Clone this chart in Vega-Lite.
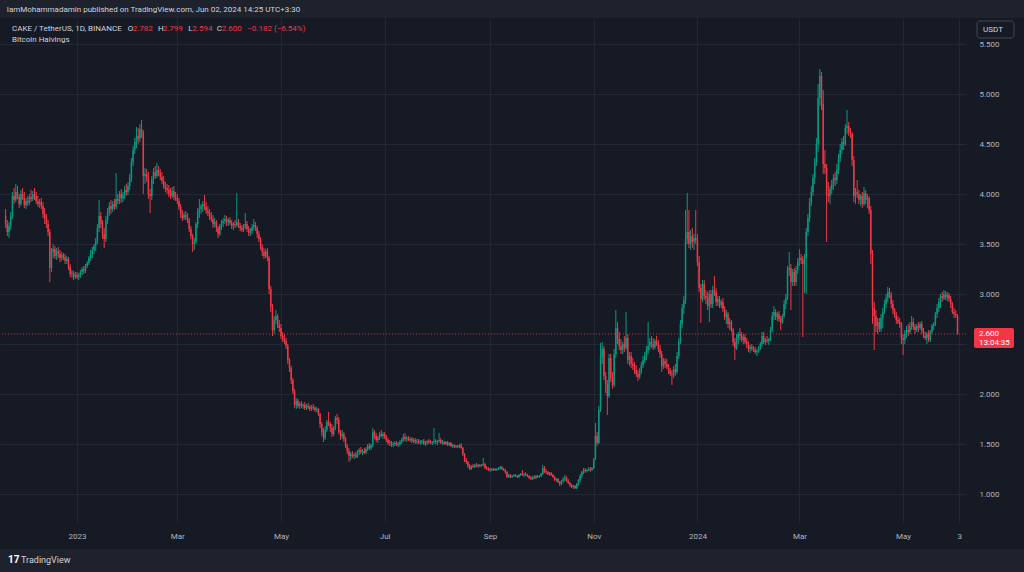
{
"$schema":"https://vega.github.io/schema/vega-lite/v6.json",
"width":966,"height":504,
"autosize":{"type":"none"},
"padding":{"left":0,"top":18,"right":58,"bottom":50},
"background":"#161a25",
"view":{"stroke":null},
"resolve":{"axis":{"x":"independent","y":"independent"}},
"datasets":{"k":[
{"t":"2022-11-20","o":3.78,"h":3.85,"l":3.66,"c":3.70},
{"t":"2022-11-21","o":3.70,"h":3.74,"l":3.58,"c":3.62},
{"t":"2022-11-22","o":3.62,"h":3.72,"l":3.56,"c":3.68},
{"t":"2022-11-23","o":3.68,"h":3.82,"l":3.64,"c":3.78},
{"t":"2022-11-24","o":3.78,"h":4.02,"l":3.75,"c":3.98},
{"t":"2022-11-25","o":3.98,"h":4.06,"l":3.90,"c":3.94},
{"t":"2022-11-26","o":3.94,"h":4.10,"l":3.92,"c":4.02},
{"t":"2022-11-27","o":4.02,"h":4.08,"l":3.95,"c":3.97},
{"t":"2022-11-28","o":3.97,"h":4.00,"l":3.86,"c":3.90},
{"t":"2022-11-29","o":3.90,"h":4.04,"l":3.88,"c":4.00},
{"t":"2022-11-30","o":4.00,"h":4.06,"l":3.94,"c":3.96},
{"t":"2022-12-01","o":3.96,"h":4.02,"l":3.86,"c":3.89},
{"t":"2022-12-02","o":3.89,"h":3.96,"l":3.85,"c":3.93},
{"t":"2022-12-03","o":3.93,"h":3.98,"l":3.88,"c":3.91},
{"t":"2022-12-04","o":3.91,"h":4.00,"l":3.89,"c":3.97},
{"t":"2022-12-05","o":3.97,"h":4.04,"l":3.92,"c":3.95},
{"t":"2022-12-06","o":3.95,"h":4.03,"l":3.93,"c":4.00},
{"t":"2022-12-07","o":4.00,"h":4.06,"l":3.94,"c":3.98},
{"t":"2022-12-08","o":3.98,"h":4.02,"l":3.90,"c":3.93},
{"t":"2022-12-09","o":3.93,"h":3.98,"l":3.87,"c":3.90},
{"t":"2022-12-10","o":3.90,"h":3.95,"l":3.86,"c":3.92},
{"t":"2022-12-11","o":3.92,"h":3.96,"l":3.85,"c":3.88},
{"t":"2022-12-12","o":3.88,"h":3.92,"l":3.76,"c":3.80},
{"t":"2022-12-13","o":3.80,"h":3.86,"l":3.70,"c":3.75},
{"t":"2022-12-14","o":3.75,"h":3.80,"l":3.66,"c":3.70},
{"t":"2022-12-15","o":3.70,"h":3.74,"l":3.58,"c":3.62},
{"t":"2022-12-16","o":3.62,"h":3.65,"l":3.12,"c":3.26},
{"t":"2022-12-17","o":3.26,"h":3.46,"l":3.22,"c":3.42},
{"t":"2022-12-18","o":3.42,"h":3.50,"l":3.36,"c":3.45},
{"t":"2022-12-19","o":3.45,"h":3.48,"l":3.35,"c":3.38},
{"t":"2022-12-20","o":3.38,"h":3.46,"l":3.34,"c":3.43},
{"t":"2022-12-21","o":3.43,"h":3.47,"l":3.36,"c":3.40},
{"t":"2022-12-22","o":3.40,"h":3.44,"l":3.32,"c":3.36},
{"t":"2022-12-23","o":3.36,"h":3.42,"l":3.33,"c":3.39},
{"t":"2022-12-24","o":3.39,"h":3.41,"l":3.34,"c":3.37},
{"t":"2022-12-25","o":3.37,"h":3.40,"l":3.30,"c":3.33},
{"t":"2022-12-26","o":3.33,"h":3.38,"l":3.30,"c":3.35},
{"t":"2022-12-27","o":3.35,"h":3.37,"l":3.24,"c":3.27},
{"t":"2022-12-28","o":3.27,"h":3.30,"l":3.17,"c":3.20},
{"t":"2022-12-29","o":3.20,"h":3.24,"l":3.16,"c":3.21},
{"t":"2022-12-30","o":3.21,"h":3.23,"l":3.14,"c":3.17},
{"t":"2022-12-31","o":3.17,"h":3.22,"l":3.15,"c":3.19},
{"t":"2023-01-01","o":3.19,"h":3.22,"l":3.15,"c":3.17},
{"t":"2023-01-02","o":3.17,"h":3.21,"l":3.14,"c":3.19},
{"t":"2023-01-03","o":3.19,"h":3.24,"l":3.16,"c":3.22},
{"t":"2023-01-04","o":3.22,"h":3.27,"l":3.19,"c":3.25},
{"t":"2023-01-05","o":3.25,"h":3.28,"l":3.20,"c":3.23},
{"t":"2023-01-06","o":3.23,"h":3.30,"l":3.21,"c":3.28},
{"t":"2023-01-07","o":3.28,"h":3.33,"l":3.26,"c":3.31},
{"t":"2023-01-08","o":3.31,"h":3.38,"l":3.29,"c":3.36},
{"t":"2023-01-09","o":3.36,"h":3.44,"l":3.33,"c":3.40},
{"t":"2023-01-10","o":3.40,"h":3.47,"l":3.36,"c":3.44},
{"t":"2023-01-11","o":3.44,"h":3.50,"l":3.40,"c":3.48},
{"t":"2023-01-12","o":3.48,"h":3.56,"l":3.43,"c":3.53},
{"t":"2023-01-13","o":3.53,"h":3.70,"l":3.50,"c":3.66},
{"t":"2023-01-14","o":3.66,"h":3.94,"l":3.62,"c":3.78},
{"t":"2023-01-15","o":3.78,"h":3.82,"l":3.66,"c":3.70},
{"t":"2023-01-16","o":3.70,"h":3.74,"l":3.55,"c":3.60},
{"t":"2023-01-17","o":3.60,"h":3.66,"l":3.46,"c":3.55},
{"t":"2023-01-18","o":3.55,"h":3.78,"l":3.52,"c":3.74},
{"t":"2023-01-19","o":3.74,"h":3.86,"l":3.70,"c":3.82},
{"t":"2023-01-20","o":3.82,"h":3.92,"l":3.78,"c":3.88},
{"t":"2023-01-21","o":3.88,"h":3.94,"l":3.80,"c":3.85},
{"t":"2023-01-22","o":3.85,"h":3.93,"l":3.82,"c":3.90},
{"t":"2023-01-23","o":3.90,"h":3.95,"l":3.84,"c":3.87},
{"t":"2023-01-24","o":3.87,"h":4.21,"l":3.85,"c":3.95},
{"t":"2023-01-25","o":3.95,"h":4.00,"l":3.90,"c":3.93},
{"t":"2023-01-26","o":3.93,"h":4.03,"l":3.90,"c":4.00},
{"t":"2023-01-27","o":4.00,"h":4.05,"l":3.91,"c":3.96},
{"t":"2023-01-28","o":3.96,"h":4.02,"l":3.92,"c":3.99},
{"t":"2023-01-29","o":3.99,"h":4.08,"l":3.95,"c":4.04},
{"t":"2023-01-30","o":4.04,"h":4.10,"l":3.98,"c":4.02},
{"t":"2023-01-31","o":4.02,"h":4.12,"l":3.99,"c":4.08},
{"t":"2023-02-01","o":4.08,"h":4.20,"l":4.04,"c":4.16},
{"t":"2023-02-02","o":4.16,"h":4.36,"l":4.12,"c":4.32},
{"t":"2023-02-03","o":4.32,"h":4.48,"l":4.28,"c":4.44},
{"t":"2023-02-04","o":4.44,"h":4.56,"l":4.40,"c":4.52},
{"t":"2023-02-05","o":4.52,"h":4.67,"l":4.46,"c":4.58},
{"t":"2023-02-06","o":4.58,"h":4.66,"l":4.50,"c":4.55},
{"t":"2023-02-07","o":4.55,"h":4.70,"l":4.52,"c":4.65},
{"t":"2023-02-08","o":4.65,"h":4.74,"l":4.56,"c":4.62},
{"t":"2023-02-09","o":4.62,"h":4.64,"l":4.00,"c":4.18},
{"t":"2023-02-10","o":4.18,"h":4.26,"l":4.10,"c":4.20},
{"t":"2023-02-11","o":4.20,"h":4.25,"l":4.12,"c":4.16},
{"t":"2023-02-12","o":4.16,"h":4.22,"l":3.95,"c":4.00},
{"t":"2023-02-13","o":4.00,"h":4.05,"l":3.81,"c":3.98},
{"t":"2023-02-14","o":3.98,"h":4.18,"l":3.94,"c":4.15},
{"t":"2023-02-15","o":4.15,"h":4.26,"l":4.10,"c":4.22},
{"t":"2023-02-16","o":4.22,"h":4.28,"l":4.15,"c":4.18},
{"t":"2023-02-17","o":4.18,"h":4.31,"l":4.16,"c":4.24},
{"t":"2023-02-18","o":4.24,"h":4.28,"l":4.18,"c":4.21},
{"t":"2023-02-19","o":4.21,"h":4.25,"l":4.14,"c":4.17},
{"t":"2023-02-20","o":4.17,"h":4.22,"l":4.10,"c":4.13},
{"t":"2023-02-21","o":4.13,"h":4.18,"l":4.05,"c":4.08},
{"t":"2023-02-22","o":4.08,"h":4.12,"l":4.02,"c":4.06},
{"t":"2023-02-23","o":4.06,"h":4.10,"l":4.00,"c":4.04},
{"t":"2023-02-24","o":4.04,"h":4.09,"l":3.97,"c":4.00},
{"t":"2023-02-25","o":4.00,"h":4.06,"l":3.95,"c":3.98},
{"t":"2023-02-26","o":3.98,"h":4.07,"l":3.96,"c":4.03},
{"t":"2023-02-27","o":4.03,"h":4.08,"l":3.94,"c":3.97},
{"t":"2023-02-28","o":3.97,"h":4.02,"l":3.93,"c":3.96},
{"t":"2023-03-01","o":3.96,"h":4.00,"l":3.90,"c":3.93},
{"t":"2023-03-02","o":3.93,"h":3.96,"l":3.84,"c":3.87},
{"t":"2023-03-03","o":3.87,"h":3.90,"l":3.76,"c":3.80},
{"t":"2023-03-04","o":3.80,"h":3.84,"l":3.73,"c":3.76},
{"t":"2023-03-05","o":3.76,"h":3.82,"l":3.74,"c":3.79},
{"t":"2023-03-06","o":3.79,"h":3.83,"l":3.74,"c":3.77},
{"t":"2023-03-07","o":3.77,"h":3.81,"l":3.71,"c":3.74},
{"t":"2023-03-08","o":3.74,"h":3.76,"l":3.62,"c":3.65},
{"t":"2023-03-09","o":3.65,"h":3.68,"l":3.55,"c":3.58},
{"t":"2023-03-10","o":3.58,"h":3.60,"l":3.42,"c":3.50},
{"t":"2023-03-11","o":3.50,"h":3.56,"l":3.44,"c":3.52},
{"t":"2023-03-12","o":3.52,"h":3.72,"l":3.50,"c":3.70},
{"t":"2023-03-13","o":3.70,"h":3.86,"l":3.66,"c":3.82},
{"t":"2023-03-14","o":3.82,"h":3.95,"l":3.76,"c":3.85},
{"t":"2023-03-15","o":3.85,"h":3.90,"l":3.80,"c":3.88},
{"t":"2023-03-16","o":3.88,"h":3.93,"l":3.82,"c":3.90},
{"t":"2023-03-17","o":3.90,"h":3.99,"l":3.84,"c":3.87},
{"t":"2023-03-18","o":3.87,"h":3.92,"l":3.80,"c":3.83},
{"t":"2023-03-19","o":3.83,"h":3.88,"l":3.78,"c":3.81},
{"t":"2023-03-20","o":3.81,"h":3.85,"l":3.74,"c":3.77},
{"t":"2023-03-21","o":3.77,"h":3.82,"l":3.72,"c":3.75},
{"t":"2023-03-22","o":3.75,"h":3.79,"l":3.66,"c":3.70},
{"t":"2023-03-23","o":3.70,"h":3.76,"l":3.67,"c":3.72},
{"t":"2023-03-24","o":3.72,"h":3.74,"l":3.62,"c":3.66},
{"t":"2023-03-25","o":3.66,"h":3.68,"l":3.56,"c":3.60},
{"t":"2023-03-26","o":3.60,"h":3.70,"l":3.58,"c":3.68},
{"t":"2023-03-27","o":3.68,"h":3.74,"l":3.64,"c":3.71},
{"t":"2023-03-28","o":3.71,"h":3.76,"l":3.67,"c":3.73},
{"t":"2023-03-29","o":3.73,"h":3.79,"l":3.70,"c":3.75},
{"t":"2023-03-30","o":3.75,"h":3.78,"l":3.68,"c":3.72},
{"t":"2023-03-31","o":3.72,"h":3.76,"l":3.68,"c":3.74},
{"t":"2023-04-01","o":3.74,"h":3.77,"l":3.69,"c":3.71},
{"t":"2023-04-02","o":3.71,"h":3.74,"l":3.65,"c":3.68},
{"t":"2023-04-03","o":3.68,"h":3.72,"l":3.64,"c":3.70},
{"t":"2023-04-04","o":3.70,"h":3.74,"l":3.66,"c":3.69},
{"t":"2023-04-05","o":3.69,"h":4.01,"l":3.67,"c":3.72},
{"t":"2023-04-06","o":3.72,"h":3.75,"l":3.66,"c":3.68},
{"t":"2023-04-07","o":3.68,"h":3.71,"l":3.63,"c":3.66},
{"t":"2023-04-08","o":3.66,"h":3.69,"l":3.62,"c":3.64},
{"t":"2023-04-09","o":3.64,"h":3.70,"l":3.62,"c":3.68},
{"t":"2023-04-10","o":3.68,"h":3.81,"l":3.65,"c":3.70},
{"t":"2023-04-11","o":3.70,"h":3.73,"l":3.62,"c":3.65},
{"t":"2023-04-12","o":3.65,"h":3.68,"l":3.58,"c":3.61},
{"t":"2023-04-13","o":3.61,"h":3.66,"l":3.58,"c":3.63},
{"t":"2023-04-14","o":3.63,"h":3.70,"l":3.60,"c":3.67},
{"t":"2023-04-15","o":3.67,"h":3.75,"l":3.64,"c":3.69},
{"t":"2023-04-16","o":3.69,"h":3.72,"l":3.63,"c":3.66},
{"t":"2023-04-17","o":3.66,"h":3.68,"l":3.56,"c":3.60},
{"t":"2023-04-18","o":3.60,"h":3.63,"l":3.52,"c":3.55},
{"t":"2023-04-19","o":3.55,"h":3.57,"l":3.44,"c":3.47},
{"t":"2023-04-20","o":3.47,"h":3.50,"l":3.38,"c":3.42},
{"t":"2023-04-21","o":3.42,"h":3.46,"l":3.35,"c":3.38},
{"t":"2023-04-22","o":3.38,"h":3.45,"l":3.36,"c":3.43},
{"t":"2023-04-23","o":3.43,"h":3.46,"l":3.33,"c":3.36},
{"t":"2023-04-24","o":3.36,"h":3.38,"l":3.00,"c":3.05},
{"t":"2023-04-25","o":3.05,"h":3.08,"l":2.82,"c":2.87},
{"t":"2023-04-26","o":2.87,"h":2.90,"l":2.58,"c":2.64},
{"t":"2023-04-27","o":2.64,"h":2.78,"l":2.60,"c":2.74},
{"t":"2023-04-28","o":2.74,"h":2.84,"l":2.70,"c":2.78},
{"t":"2023-04-29","o":2.78,"h":2.80,"l":2.66,"c":2.69},
{"t":"2023-04-30","o":2.69,"h":2.74,"l":2.62,"c":2.66},
{"t":"2023-05-01","o":2.66,"h":2.70,"l":2.55,"c":2.58},
{"t":"2023-05-02","o":2.58,"h":2.62,"l":2.52,"c":2.56},
{"t":"2023-05-03","o":2.56,"h":2.60,"l":2.50,"c":2.53},
{"t":"2023-05-04","o":2.53,"h":2.56,"l":2.45,"c":2.48},
{"t":"2023-05-05","o":2.48,"h":2.50,"l":2.30,"c":2.34},
{"t":"2023-05-06","o":2.34,"h":2.36,"l":2.22,"c":2.26},
{"t":"2023-05-07","o":2.26,"h":2.28,"l":2.10,"c":2.14},
{"t":"2023-05-08","o":2.14,"h":2.16,"l":2.00,"c":2.03},
{"t":"2023-05-09","o":2.03,"h":2.05,"l":1.86,"c":1.89},
{"t":"2023-05-10","o":1.89,"h":1.96,"l":1.85,"c":1.93},
{"t":"2023-05-11","o":1.93,"h":1.95,"l":1.86,"c":1.88},
{"t":"2023-05-12","o":1.88,"h":1.92,"l":1.85,"c":1.90},
{"t":"2023-05-13","o":1.90,"h":1.93,"l":1.86,"c":1.88},
{"t":"2023-05-14","o":1.88,"h":1.91,"l":1.85,"c":1.89},
{"t":"2023-05-15","o":1.89,"h":1.92,"l":1.84,"c":1.86},
{"t":"2023-05-16","o":1.86,"h":1.90,"l":1.84,"c":1.88},
{"t":"2023-05-17","o":1.88,"h":1.91,"l":1.85,"c":1.87},
{"t":"2023-05-18","o":1.87,"h":1.89,"l":1.83,"c":1.85},
{"t":"2023-05-19","o":1.85,"h":1.89,"l":1.83,"c":1.87},
{"t":"2023-05-20","o":1.87,"h":1.90,"l":1.84,"c":1.86},
{"t":"2023-05-21","o":1.86,"h":1.88,"l":1.82,"c":1.84},
{"t":"2023-05-22","o":1.84,"h":1.87,"l":1.82,"c":1.85},
{"t":"2023-05-23","o":1.85,"h":1.86,"l":1.78,"c":1.80},
{"t":"2023-05-24","o":1.80,"h":1.81,"l":1.66,"c":1.70},
{"t":"2023-05-25","o":1.70,"h":1.72,"l":1.58,"c":1.62},
{"t":"2023-05-26","o":1.62,"h":1.66,"l":1.52,"c":1.56},
{"t":"2023-05-27","o":1.56,"h":1.68,"l":1.54,"c":1.64},
{"t":"2023-05-28","o":1.64,"h":1.74,"l":1.62,"c":1.72},
{"t":"2023-05-29","o":1.72,"h":1.82,"l":1.68,"c":1.70},
{"t":"2023-05-30","o":1.70,"h":1.72,"l":1.62,"c":1.66},
{"t":"2023-05-31","o":1.66,"h":1.70,"l":1.57,"c":1.60},
{"t":"2023-06-01","o":1.60,"h":1.68,"l":1.58,"c":1.66},
{"t":"2023-06-02","o":1.66,"h":1.78,"l":1.64,"c":1.76},
{"t":"2023-06-03","o":1.76,"h":1.80,"l":1.70,"c":1.74},
{"t":"2023-06-04","o":1.74,"h":1.77,"l":1.60,"c":1.62},
{"t":"2023-06-05","o":1.62,"h":1.64,"l":1.54,"c":1.58},
{"t":"2023-06-06","o":1.58,"h":1.64,"l":1.55,"c":1.60},
{"t":"2023-06-07","o":1.60,"h":1.62,"l":1.52,"c":1.55},
{"t":"2023-06-08","o":1.55,"h":1.57,"l":1.46,"c":1.48},
{"t":"2023-06-09","o":1.48,"h":1.50,"l":1.40,"c":1.43},
{"t":"2023-06-10","o":1.43,"h":1.46,"l":1.32,"c":1.38},
{"t":"2023-06-11","o":1.38,"h":1.42,"l":1.34,"c":1.40},
{"t":"2023-06-12","o":1.40,"h":1.43,"l":1.36,"c":1.38},
{"t":"2023-06-13","o":1.38,"h":1.41,"l":1.35,"c":1.39},
{"t":"2023-06-14","o":1.39,"h":1.42,"l":1.36,"c":1.37},
{"t":"2023-06-15","o":1.37,"h":1.44,"l":1.36,"c":1.42},
{"t":"2023-06-16","o":1.42,"h":1.46,"l":1.39,"c":1.44},
{"t":"2023-06-17","o":1.44,"h":1.47,"l":1.40,"c":1.42},
{"t":"2023-06-18","o":1.42,"h":1.45,"l":1.39,"c":1.43},
{"t":"2023-06-19","o":1.43,"h":1.46,"l":1.40,"c":1.41},
{"t":"2023-06-20","o":1.41,"h":1.47,"l":1.40,"c":1.45},
{"t":"2023-06-21","o":1.45,"h":1.50,"l":1.43,"c":1.48},
{"t":"2023-06-22","o":1.48,"h":1.51,"l":1.44,"c":1.46},
{"t":"2023-06-23","o":1.46,"h":1.50,"l":1.44,"c":1.49},
{"t":"2023-06-24","o":1.49,"h":1.66,"l":1.47,"c":1.62},
{"t":"2023-06-25","o":1.62,"h":1.64,"l":1.55,"c":1.58},
{"t":"2023-06-26","o":1.58,"h":1.61,"l":1.52,"c":1.54},
{"t":"2023-06-27","o":1.54,"h":1.58,"l":1.51,"c":1.56},
{"t":"2023-06-28","o":1.56,"h":1.62,"l":1.54,"c":1.60},
{"t":"2023-06-29","o":1.60,"h":1.64,"l":1.57,"c":1.58},
{"t":"2023-06-30","o":1.58,"h":1.62,"l":1.55,"c":1.60},
{"t":"2023-07-01","o":1.60,"h":1.62,"l":1.55,"c":1.57},
{"t":"2023-07-02","o":1.57,"h":1.59,"l":1.52,"c":1.54},
{"t":"2023-07-03","o":1.54,"h":1.56,"l":1.49,"c":1.51},
{"t":"2023-07-04","o":1.51,"h":1.54,"l":1.48,"c":1.52},
{"t":"2023-07-05","o":1.52,"h":1.53,"l":1.47,"c":1.49},
{"t":"2023-07-06","o":1.49,"h":1.52,"l":1.47,"c":1.50},
{"t":"2023-07-07","o":1.50,"h":1.53,"l":1.48,"c":1.51},
{"t":"2023-07-08","o":1.51,"h":1.53,"l":1.48,"c":1.49},
{"t":"2023-07-09","o":1.49,"h":1.52,"l":1.47,"c":1.50},
{"t":"2023-07-10","o":1.50,"h":1.54,"l":1.48,"c":1.52},
{"t":"2023-07-11","o":1.52,"h":1.56,"l":1.50,"c":1.54},
{"t":"2023-07-12","o":1.54,"h":1.60,"l":1.52,"c":1.57},
{"t":"2023-07-13","o":1.57,"h":1.61,"l":1.53,"c":1.55},
{"t":"2023-07-14","o":1.55,"h":1.58,"l":1.52,"c":1.56},
{"t":"2023-07-15","o":1.56,"h":1.58,"l":1.53,"c":1.54},
{"t":"2023-07-16","o":1.54,"h":1.57,"l":1.52,"c":1.55},
{"t":"2023-07-17","o":1.55,"h":1.57,"l":1.51,"c":1.53},
{"t":"2023-07-18","o":1.53,"h":1.56,"l":1.51,"c":1.54},
{"t":"2023-07-19","o":1.54,"h":1.56,"l":1.50,"c":1.52},
{"t":"2023-07-20","o":1.52,"h":1.55,"l":1.50,"c":1.53},
{"t":"2023-07-21","o":1.53,"h":1.55,"l":1.50,"c":1.51},
{"t":"2023-07-22","o":1.51,"h":1.54,"l":1.49,"c":1.52},
{"t":"2023-07-23","o":1.52,"h":1.54,"l":1.50,"c":1.53},
{"t":"2023-07-24","o":1.53,"h":1.55,"l":1.49,"c":1.50},
{"t":"2023-07-25","o":1.50,"h":1.53,"l":1.48,"c":1.51},
{"t":"2023-07-26","o":1.51,"h":1.54,"l":1.49,"c":1.53},
{"t":"2023-07-27","o":1.53,"h":1.55,"l":1.50,"c":1.52},
{"t":"2023-07-28","o":1.52,"h":1.54,"l":1.50,"c":1.51},
{"t":"2023-07-29","o":1.51,"h":1.53,"l":1.49,"c":1.52},
{"t":"2023-07-30","o":1.52,"h":1.66,"l":1.50,"c":1.53},
{"t":"2023-07-31","o":1.53,"h":1.55,"l":1.50,"c":1.52},
{"t":"2023-08-01","o":1.52,"h":1.54,"l":1.49,"c":1.53},
{"t":"2023-08-02","o":1.53,"h":1.61,"l":1.51,"c":1.54},
{"t":"2023-08-03","o":1.54,"h":1.56,"l":1.50,"c":1.51},
{"t":"2023-08-04","o":1.51,"h":1.54,"l":1.49,"c":1.52},
{"t":"2023-08-05","o":1.52,"h":1.53,"l":1.49,"c":1.50},
{"t":"2023-08-06","o":1.50,"h":1.53,"l":1.49,"c":1.52},
{"t":"2023-08-07","o":1.52,"h":1.53,"l":1.48,"c":1.49},
{"t":"2023-08-08","o":1.49,"h":1.52,"l":1.48,"c":1.51},
{"t":"2023-08-09","o":1.51,"h":1.52,"l":1.47,"c":1.48},
{"t":"2023-08-10","o":1.48,"h":1.50,"l":1.46,"c":1.49},
{"t":"2023-08-11","o":1.49,"h":1.50,"l":1.46,"c":1.47},
{"t":"2023-08-12","o":1.47,"h":1.49,"l":1.46,"c":1.48},
{"t":"2023-08-13","o":1.48,"h":1.49,"l":1.46,"c":1.47},
{"t":"2023-08-14","o":1.47,"h":1.50,"l":1.46,"c":1.49},
{"t":"2023-08-15","o":1.49,"h":1.51,"l":1.45,"c":1.46},
{"t":"2023-08-16","o":1.46,"h":1.47,"l":1.38,"c":1.40},
{"t":"2023-08-17","o":1.40,"h":1.41,"l":1.32,"c":1.34},
{"t":"2023-08-18","o":1.34,"h":1.36,"l":1.30,"c":1.32},
{"t":"2023-08-19","o":1.32,"h":1.33,"l":1.26,"c":1.28},
{"t":"2023-08-20","o":1.28,"h":1.30,"l":1.24,"c":1.25},
{"t":"2023-08-21","o":1.25,"h":1.29,"l":1.24,"c":1.28},
{"t":"2023-08-22","o":1.28,"h":1.30,"l":1.26,"c":1.27},
{"t":"2023-08-23","o":1.27,"h":1.30,"l":1.26,"c":1.29},
{"t":"2023-08-24","o":1.29,"h":1.31,"l":1.27,"c":1.28},
{"t":"2023-08-25","o":1.28,"h":1.30,"l":1.26,"c":1.29},
{"t":"2023-08-26","o":1.29,"h":1.30,"l":1.27,"c":1.28},
{"t":"2023-08-27","o":1.28,"h":1.30,"l":1.27,"c":1.29},
{"t":"2023-08-28","o":1.29,"h":1.36,"l":1.28,"c":1.30},
{"t":"2023-08-29","o":1.30,"h":1.31,"l":1.25,"c":1.26},
{"t":"2023-08-30","o":1.26,"h":1.28,"l":1.24,"c":1.25},
{"t":"2023-08-31","o":1.25,"h":1.27,"l":1.23,"c":1.24},
{"t":"2023-09-01","o":1.24,"h":1.26,"l":1.22,"c":1.25},
{"t":"2023-09-02","o":1.25,"h":1.26,"l":1.23,"c":1.24},
{"t":"2023-09-03","o":1.24,"h":1.26,"l":1.23,"c":1.25},
{"t":"2023-09-04","o":1.25,"h":1.26,"l":1.23,"c":1.24},
{"t":"2023-09-05","o":1.24,"h":1.26,"l":1.23,"c":1.25},
{"t":"2023-09-06","o":1.25,"h":1.27,"l":1.24,"c":1.26},
{"t":"2023-09-07","o":1.26,"h":1.28,"l":1.24,"c":1.27},
{"t":"2023-09-08","o":1.27,"h":1.28,"l":1.24,"c":1.25},
{"t":"2023-09-09","o":1.25,"h":1.26,"l":1.23,"c":1.24},
{"t":"2023-09-10","o":1.24,"h":1.25,"l":1.20,"c":1.22},
{"t":"2023-09-11","o":1.22,"h":1.23,"l":1.16,"c":1.17},
{"t":"2023-09-12","o":1.17,"h":1.20,"l":1.16,"c":1.19},
{"t":"2023-09-13","o":1.19,"h":1.20,"l":1.16,"c":1.17},
{"t":"2023-09-14","o":1.17,"h":1.19,"l":1.16,"c":1.18},
{"t":"2023-09-15","o":1.18,"h":1.20,"l":1.17,"c":1.19},
{"t":"2023-09-16","o":1.19,"h":1.20,"l":1.17,"c":1.18},
{"t":"2023-09-17","o":1.18,"h":1.19,"l":1.16,"c":1.17},
{"t":"2023-09-18","o":1.17,"h":1.20,"l":1.16,"c":1.19},
{"t":"2023-09-19","o":1.19,"h":1.21,"l":1.18,"c":1.20},
{"t":"2023-09-20","o":1.20,"h":1.24,"l":1.18,"c":1.19},
{"t":"2023-09-21","o":1.19,"h":1.21,"l":1.17,"c":1.20},
{"t":"2023-09-22","o":1.20,"h":1.22,"l":1.18,"c":1.19},
{"t":"2023-09-23","o":1.19,"h":1.20,"l":1.17,"c":1.18},
{"t":"2023-09-24","o":1.18,"h":1.19,"l":1.15,"c":1.16},
{"t":"2023-09-25","o":1.16,"h":1.18,"l":1.14,"c":1.15},
{"t":"2023-09-26","o":1.15,"h":1.18,"l":1.14,"c":1.17},
{"t":"2023-09-27","o":1.17,"h":1.19,"l":1.15,"c":1.16},
{"t":"2023-09-28","o":1.16,"h":1.19,"l":1.15,"c":1.18},
{"t":"2023-09-29","o":1.18,"h":1.19,"l":1.16,"c":1.17},
{"t":"2023-09-30","o":1.17,"h":1.19,"l":1.16,"c":1.18},
{"t":"2023-10-01","o":1.18,"h":1.21,"l":1.17,"c":1.20},
{"t":"2023-10-02","o":1.20,"h":1.29,"l":1.19,"c":1.26},
{"t":"2023-10-03","o":1.26,"h":1.28,"l":1.21,"c":1.23},
{"t":"2023-10-04","o":1.23,"h":1.25,"l":1.20,"c":1.22},
{"t":"2023-10-05","o":1.22,"h":1.23,"l":1.19,"c":1.20},
{"t":"2023-10-06","o":1.20,"h":1.22,"l":1.18,"c":1.21},
{"t":"2023-10-07","o":1.21,"h":1.22,"l":1.18,"c":1.19},
{"t":"2023-10-08","o":1.19,"h":1.20,"l":1.16,"c":1.17},
{"t":"2023-10-09","o":1.17,"h":1.18,"l":1.13,"c":1.14},
{"t":"2023-10-10","o":1.14,"h":1.16,"l":1.12,"c":1.15},
{"t":"2023-10-11","o":1.15,"h":1.16,"l":1.11,"c":1.12},
{"t":"2023-10-12","o":1.12,"h":1.13,"l":1.08,"c":1.10},
{"t":"2023-10-13","o":1.10,"h":1.14,"l":1.09,"c":1.13},
{"t":"2023-10-14","o":1.13,"h":1.17,"l":1.11,"c":1.15},
{"t":"2023-10-15","o":1.15,"h":1.19,"l":1.13,"c":1.16},
{"t":"2023-10-16","o":1.16,"h":1.18,"l":1.12,"c":1.13},
{"t":"2023-10-17","o":1.13,"h":1.15,"l":1.10,"c":1.11},
{"t":"2023-10-18","o":1.11,"h":1.12,"l":1.07,"c":1.09},
{"t":"2023-10-19","o":1.09,"h":1.10,"l":1.06,"c":1.07},
{"t":"2023-10-20","o":1.07,"h":1.09,"l":1.05,"c":1.08},
{"t":"2023-10-21","o":1.08,"h":1.09,"l":1.05,"c":1.06},
{"t":"2023-10-22","o":1.06,"h":1.11,"l":1.05,"c":1.10},
{"t":"2023-10-23","o":1.10,"h":1.15,"l":1.08,"c":1.14},
{"t":"2023-10-24","o":1.14,"h":1.20,"l":1.12,"c":1.18},
{"t":"2023-10-25","o":1.18,"h":1.23,"l":1.16,"c":1.22},
{"t":"2023-10-26","o":1.22,"h":1.26,"l":1.20,"c":1.24},
{"t":"2023-10-27","o":1.24,"h":1.26,"l":1.21,"c":1.23},
{"t":"2023-10-28","o":1.23,"h":1.25,"l":1.22,"c":1.24},
{"t":"2023-10-29","o":1.24,"h":1.27,"l":1.23,"c":1.25},
{"t":"2023-10-30","o":1.25,"h":1.27,"l":1.22,"c":1.24},
{"t":"2023-10-31","o":1.24,"h":1.27,"l":1.23,"c":1.26},
{"t":"2023-11-01","o":1.26,"h":1.36,"l":1.25,"c":1.35},
{"t":"2023-11-02","o":1.35,"h":1.71,"l":1.34,"c":1.58},
{"t":"2023-11-03","o":1.58,"h":1.62,"l":1.48,"c":1.51},
{"t":"2023-11-04","o":1.51,"h":1.88,"l":1.50,"c":1.84},
{"t":"2023-11-05","o":1.84,"h":2.51,"l":1.82,"c":2.37},
{"t":"2023-11-06","o":2.37,"h":2.52,"l":2.30,"c":2.45},
{"t":"2023-11-07","o":2.45,"h":2.48,"l":2.14,"c":2.18},
{"t":"2023-11-08","o":2.18,"h":2.22,"l":2.01,"c":2.10},
{"t":"2023-11-09","o":2.10,"h":2.14,"l":1.79,"c":1.98},
{"t":"2023-11-10","o":1.98,"h":2.40,"l":1.96,"c":2.36},
{"t":"2023-11-11","o":2.36,"h":2.40,"l":2.12,"c":2.16},
{"t":"2023-11-12","o":2.16,"h":2.22,"l":2.05,"c":2.09},
{"t":"2023-11-13","o":2.09,"h":2.45,"l":2.07,"c":2.40},
{"t":"2023-11-14","o":2.40,"h":2.84,"l":2.36,"c":2.66},
{"t":"2023-11-15","o":2.66,"h":2.72,"l":2.50,"c":2.55},
{"t":"2023-11-16","o":2.55,"h":2.62,"l":2.44,"c":2.48},
{"t":"2023-11-17","o":2.48,"h":2.55,"l":2.40,"c":2.44},
{"t":"2023-11-18","o":2.44,"h":2.52,"l":2.40,"c":2.50},
{"t":"2023-11-19","o":2.50,"h":2.58,"l":2.42,"c":2.46},
{"t":"2023-11-20","o":2.46,"h":2.82,"l":2.44,"c":2.56},
{"t":"2023-11-21","o":2.56,"h":2.60,"l":2.30,"c":2.34},
{"t":"2023-11-22","o":2.34,"h":2.42,"l":2.28,"c":2.38},
{"t":"2023-11-23","o":2.38,"h":2.42,"l":2.26,"c":2.30},
{"t":"2023-11-24","o":2.30,"h":2.36,"l":2.24,"c":2.28},
{"t":"2023-11-25","o":2.28,"h":2.32,"l":2.20,"c":2.24},
{"t":"2023-11-26","o":2.24,"h":2.29,"l":2.17,"c":2.20},
{"t":"2023-11-27","o":2.20,"h":2.24,"l":2.13,"c":2.17},
{"t":"2023-11-28","o":2.17,"h":2.26,"l":2.15,"c":2.23},
{"t":"2023-11-29","o":2.23,"h":2.32,"l":2.20,"c":2.29},
{"t":"2023-11-30","o":2.29,"h":2.38,"l":2.26,"c":2.34},
{"t":"2023-12-01","o":2.34,"h":2.42,"l":2.31,"c":2.38},
{"t":"2023-12-02","o":2.38,"h":2.48,"l":2.34,"c":2.44},
{"t":"2023-12-03","o":2.44,"h":2.72,"l":2.40,"c":2.48},
{"t":"2023-12-04","o":2.48,"h":2.56,"l":2.44,"c":2.52},
{"t":"2023-12-05","o":2.52,"h":2.58,"l":2.46,"c":2.50},
{"t":"2023-12-06","o":2.50,"h":2.56,"l":2.44,"c":2.47},
{"t":"2023-12-07","o":2.47,"h":2.55,"l":2.45,"c":2.53},
{"t":"2023-12-08","o":2.53,"h":2.58,"l":2.48,"c":2.50},
{"t":"2023-12-09","o":2.50,"h":2.54,"l":2.42,"c":2.45},
{"t":"2023-12-10","o":2.45,"h":2.49,"l":2.36,"c":2.40},
{"t":"2023-12-11","o":2.40,"h":2.43,"l":2.22,"c":2.28},
{"t":"2023-12-12","o":2.28,"h":2.36,"l":2.25,"c":2.33},
{"t":"2023-12-13","o":2.33,"h":2.36,"l":2.26,"c":2.30},
{"t":"2023-12-14","o":2.30,"h":2.35,"l":2.25,"c":2.27},
{"t":"2023-12-15","o":2.27,"h":2.30,"l":2.20,"c":2.23},
{"t":"2023-12-16","o":2.23,"h":2.26,"l":2.18,"c":2.20},
{"t":"2023-12-17","o":2.20,"h":2.24,"l":2.09,"c":2.19},
{"t":"2023-12-18","o":2.19,"h":2.28,"l":2.16,"c":2.25},
{"t":"2023-12-19","o":2.25,"h":2.30,"l":2.18,"c":2.22},
{"t":"2023-12-20","o":2.22,"h":2.42,"l":2.20,"c":2.38},
{"t":"2023-12-21","o":2.38,"h":2.56,"l":2.35,"c":2.52},
{"t":"2023-12-22","o":2.52,"h":2.74,"l":2.50,"c":2.70},
{"t":"2023-12-23","o":2.70,"h":2.90,"l":2.66,"c":2.86},
{"t":"2023-12-24","o":2.86,"h":2.98,"l":2.80,"c":2.94},
{"t":"2023-12-25","o":2.94,"h":3.84,"l":2.90,"c":3.55},
{"t":"2023-12-26","o":3.55,"h":4.01,"l":3.50,"c":3.62},
{"t":"2023-12-27","o":3.62,"h":3.84,"l":3.46,"c":3.50},
{"t":"2023-12-28","o":3.50,"h":3.64,"l":3.44,"c":3.58},
{"t":"2023-12-29","o":3.58,"h":3.66,"l":3.46,"c":3.52},
{"t":"2023-12-30","o":3.52,"h":3.60,"l":3.44,"c":3.56},
{"t":"2023-12-31","o":3.56,"h":3.84,"l":3.50,"c":3.54},
{"t":"2024-01-01","o":3.54,"h":3.60,"l":3.28,"c":3.32},
{"t":"2024-01-02","o":3.32,"h":3.38,"l":3.02,"c":3.06},
{"t":"2024-01-03","o":3.06,"h":3.10,"l":2.71,"c":2.95},
{"t":"2024-01-04","o":2.95,"h":3.14,"l":2.92,"c":3.10},
{"t":"2024-01-05","o":3.10,"h":3.14,"l":2.94,"c":2.98},
{"t":"2024-01-06","o":2.98,"h":3.04,"l":2.90,"c":2.96},
{"t":"2024-01-07","o":2.96,"h":3.02,"l":2.84,"c":2.88},
{"t":"2024-01-08","o":2.88,"h":3.04,"l":2.72,"c":3.00},
{"t":"2024-01-09","o":3.00,"h":3.04,"l":2.86,"c":2.90},
{"t":"2024-01-10","o":2.90,"h":3.08,"l":2.86,"c":3.04},
{"t":"2024-01-11","o":3.04,"h":3.18,"l":2.98,"c":3.02},
{"t":"2024-01-12","o":3.02,"h":3.06,"l":2.88,"c":2.92},
{"t":"2024-01-13","o":2.92,"h":2.98,"l":2.88,"c":2.95},
{"t":"2024-01-14","o":2.95,"h":2.98,"l":2.86,"c":2.89},
{"t":"2024-01-15","o":2.89,"h":2.94,"l":2.86,"c":2.92},
{"t":"2024-01-16","o":2.92,"h":2.96,"l":2.82,"c":2.85},
{"t":"2024-01-17","o":2.85,"h":2.88,"l":2.74,"c":2.77},
{"t":"2024-01-18","o":2.77,"h":2.84,"l":2.70,"c":2.80},
{"t":"2024-01-19","o":2.80,"h":2.82,"l":2.66,"c":2.70},
{"t":"2024-01-20","o":2.70,"h":2.76,"l":2.64,"c":2.72},
{"t":"2024-01-21","o":2.72,"h":2.74,"l":2.62,"c":2.64},
{"t":"2024-01-22","o":2.64,"h":2.66,"l":2.48,"c":2.52},
{"t":"2024-01-23","o":2.52,"h":2.56,"l":2.34,"c":2.46},
{"t":"2024-01-24","o":2.46,"h":2.60,"l":2.44,"c":2.56},
{"t":"2024-01-25","o":2.56,"h":2.62,"l":2.50,"c":2.60},
{"t":"2024-01-26","o":2.60,"h":2.66,"l":2.54,"c":2.58},
{"t":"2024-01-27","o":2.58,"h":2.62,"l":2.52,"c":2.54},
{"t":"2024-01-28","o":2.54,"h":2.60,"l":2.50,"c":2.57},
{"t":"2024-01-29","o":2.57,"h":2.60,"l":2.50,"c":2.52},
{"t":"2024-01-30","o":2.52,"h":2.56,"l":2.46,"c":2.50},
{"t":"2024-01-31","o":2.50,"h":2.53,"l":2.42,"c":2.45},
{"t":"2024-02-01","o":2.45,"h":2.49,"l":2.41,"c":2.47},
{"t":"2024-02-02","o":2.47,"h":2.50,"l":2.43,"c":2.46},
{"t":"2024-02-03","o":2.46,"h":2.48,"l":2.42,"c":2.44},
{"t":"2024-02-04","o":2.44,"h":2.47,"l":2.40,"c":2.42},
{"t":"2024-02-05","o":2.42,"h":2.45,"l":2.38,"c":2.43},
{"t":"2024-02-06","o":2.43,"h":2.48,"l":2.41,"c":2.46},
{"t":"2024-02-07","o":2.46,"h":2.52,"l":2.44,"c":2.50},
{"t":"2024-02-08","o":2.50,"h":2.62,"l":2.48,"c":2.58},
{"t":"2024-02-09","o":2.58,"h":2.62,"l":2.50,"c":2.52},
{"t":"2024-02-10","o":2.52,"h":2.56,"l":2.49,"c":2.54},
{"t":"2024-02-11","o":2.54,"h":2.58,"l":2.51,"c":2.53},
{"t":"2024-02-12","o":2.53,"h":2.56,"l":2.49,"c":2.55},
{"t":"2024-02-13","o":2.55,"h":2.67,"l":2.53,"c":2.64},
{"t":"2024-02-14","o":2.64,"h":2.82,"l":2.62,"c":2.78},
{"t":"2024-02-15","o":2.78,"h":2.88,"l":2.74,"c":2.82},
{"t":"2024-02-16","o":2.82,"h":2.85,"l":2.74,"c":2.77},
{"t":"2024-02-17","o":2.77,"h":2.82,"l":2.73,"c":2.80},
{"t":"2024-02-18","o":2.80,"h":2.83,"l":2.72,"c":2.75},
{"t":"2024-02-19","o":2.75,"h":2.78,"l":2.64,"c":2.72},
{"t":"2024-02-20","o":2.72,"h":2.80,"l":2.70,"c":2.78},
{"t":"2024-02-21","o":2.78,"h":2.94,"l":2.76,"c":2.90},
{"t":"2024-02-22","o":2.90,"h":3.00,"l":2.85,"c":2.96},
{"t":"2024-02-23","o":2.96,"h":3.28,"l":2.94,"c":3.24},
{"t":"2024-02-24","o":3.24,"h":3.42,"l":3.18,"c":3.26},
{"t":"2024-02-25","o":3.26,"h":3.30,"l":2.84,"c":3.12},
{"t":"2024-02-26","o":3.12,"h":3.25,"l":3.08,"c":3.22},
{"t":"2024-02-27","o":3.22,"h":3.26,"l":3.08,"c":3.12},
{"t":"2024-02-28","o":3.12,"h":3.28,"l":3.08,"c":3.24},
{"t":"2024-02-29","o":3.24,"h":3.36,"l":3.20,"c":3.32},
{"t":"2024-03-01","o":3.32,"h":3.45,"l":3.28,"c":3.36},
{"t":"2024-03-02","o":3.36,"h":3.40,"l":3.30,"c":3.34},
{"t":"2024-03-03","o":3.34,"h":3.38,"l":2.57,"c":3.30},
{"t":"2024-03-04","o":3.30,"h":3.40,"l":3.01,"c":3.36},
{"t":"2024-03-05","o":3.36,"h":3.66,"l":3.00,"c":3.62},
{"t":"2024-03-06","o":3.62,"h":3.80,"l":3.58,"c":3.76},
{"t":"2024-03-07","o":3.76,"h":3.96,"l":3.72,"c":3.92},
{"t":"2024-03-08","o":3.92,"h":4.08,"l":3.88,"c":4.02},
{"t":"2024-03-09","o":4.02,"h":4.20,"l":3.98,"c":4.16},
{"t":"2024-03-10","o":4.16,"h":4.36,"l":4.10,"c":4.32},
{"t":"2024-03-11","o":4.32,"h":4.56,"l":4.28,"c":4.50},
{"t":"2024-03-12","o":4.50,"h":5.10,"l":4.42,"c":4.96},
{"t":"2024-03-13","o":4.96,"h":5.25,"l":4.88,"c":5.18},
{"t":"2024-03-14","o":5.18,"h":5.22,"l":4.84,"c":4.90},
{"t":"2024-03-15","o":4.90,"h":5.04,"l":4.20,"c":4.30},
{"t":"2024-03-16","o":4.30,"h":4.44,"l":4.20,"c":4.26},
{"t":"2024-03-17","o":4.26,"h":4.30,"l":3.52,"c":4.00},
{"t":"2024-03-18","o":4.00,"h":4.12,"l":3.92,"c":3.98},
{"t":"2024-03-19","o":3.98,"h":4.08,"l":3.90,"c":4.05},
{"t":"2024-03-20","o":4.05,"h":4.14,"l":4.00,"c":4.10},
{"t":"2024-03-21","o":4.10,"h":4.20,"l":4.04,"c":4.16},
{"t":"2024-03-22","o":4.16,"h":4.22,"l":4.08,"c":4.14},
{"t":"2024-03-23","o":4.14,"h":4.30,"l":4.10,"c":4.24},
{"t":"2024-03-24","o":4.24,"h":4.40,"l":4.20,"c":4.36},
{"t":"2024-03-25","o":4.36,"h":4.50,"l":4.32,"c":4.44},
{"t":"2024-03-26","o":4.44,"h":4.56,"l":4.40,"c":4.52},
{"t":"2024-03-27","o":4.52,"h":4.58,"l":4.44,"c":4.50},
{"t":"2024-03-28","o":4.50,"h":4.70,"l":4.48,"c":4.66},
{"t":"2024-03-29","o":4.66,"h":4.84,"l":4.60,"c":4.68},
{"t":"2024-03-30","o":4.68,"h":4.72,"l":4.58,"c":4.62},
{"t":"2024-03-31","o":4.62,"h":4.66,"l":4.56,"c":4.60},
{"t":"2024-04-01","o":4.60,"h":4.62,"l":4.28,"c":4.34},
{"t":"2024-04-02","o":4.34,"h":4.38,"l":3.92,"c":3.98},
{"t":"2024-04-03","o":3.98,"h":4.06,"l":3.90,"c":4.02},
{"t":"2024-04-04","o":4.02,"h":4.14,"l":3.96,"c":4.00},
{"t":"2024-04-05","o":4.00,"h":4.04,"l":3.90,"c":3.94},
{"t":"2024-04-06","o":3.94,"h":4.00,"l":3.88,"c":3.98},
{"t":"2024-04-07","o":3.98,"h":4.02,"l":3.86,"c":3.90},
{"t":"2024-04-08","o":3.90,"h":4.07,"l":3.88,"c":4.01},
{"t":"2024-04-09","o":4.01,"h":4.04,"l":3.90,"c":3.94},
{"t":"2024-04-10","o":3.94,"h":4.00,"l":3.86,"c":3.96},
{"t":"2024-04-11","o":3.96,"h":3.98,"l":3.80,"c":3.84},
{"t":"2024-04-12","o":3.84,"h":3.88,"l":3.30,"c":3.40},
{"t":"2024-04-13","o":3.40,"h":3.44,"l":2.70,"c":2.86},
{"t":"2024-04-14","o":2.86,"h":2.92,"l":2.44,"c":2.78},
{"t":"2024-04-15","o":2.78,"h":2.84,"l":2.62,"c":2.68},
{"t":"2024-04-16","o":2.68,"h":2.76,"l":2.60,"c":2.72},
{"t":"2024-04-17","o":2.72,"h":2.76,"l":2.62,"c":2.65},
{"t":"2024-04-18","o":2.65,"h":2.80,"l":2.62,"c":2.76},
{"t":"2024-04-19","o":2.76,"h":2.86,"l":2.66,"c":2.82},
{"t":"2024-04-20","o":2.82,"h":2.94,"l":2.80,"c":2.90},
{"t":"2024-04-21","o":2.90,"h":3.00,"l":2.86,"c":2.96},
{"t":"2024-04-22","o":2.96,"h":3.07,"l":2.92,"c":3.02},
{"t":"2024-04-23","o":3.02,"h":3.06,"l":2.96,"c":2.99},
{"t":"2024-04-24","o":2.99,"h":3.02,"l":2.86,"c":2.90},
{"t":"2024-04-25","o":2.90,"h":2.94,"l":2.80,"c":2.84},
{"t":"2024-04-26","o":2.84,"h":2.86,"l":2.76,"c":2.79},
{"t":"2024-04-27","o":2.79,"h":2.82,"l":2.70,"c":2.74},
{"t":"2024-04-28","o":2.74,"h":2.78,"l":2.70,"c":2.72},
{"t":"2024-04-29","o":2.72,"h":2.76,"l":2.66,"c":2.70},
{"t":"2024-04-30","o":2.70,"h":2.72,"l":2.50,"c":2.56},
{"t":"2024-05-01","o":2.56,"h":2.60,"l":2.39,"c":2.54},
{"t":"2024-05-02","o":2.54,"h":2.64,"l":2.50,"c":2.60},
{"t":"2024-05-03","o":2.60,"h":2.68,"l":2.56,"c":2.64},
{"t":"2024-05-04","o":2.64,"h":2.70,"l":2.58,"c":2.62},
{"t":"2024-05-05","o":2.62,"h":2.72,"l":2.60,"c":2.68},
{"t":"2024-05-06","o":2.68,"h":2.78,"l":2.64,"c":2.72},
{"t":"2024-05-07","o":2.72,"h":2.76,"l":2.64,"c":2.67},
{"t":"2024-05-08","o":2.67,"h":2.70,"l":2.60,"c":2.64},
{"t":"2024-05-09","o":2.64,"h":2.70,"l":2.62,"c":2.68},
{"t":"2024-05-10","o":2.68,"h":2.72,"l":2.62,"c":2.66},
{"t":"2024-05-11","o":2.66,"h":2.72,"l":2.64,"c":2.70},
{"t":"2024-05-12","o":2.70,"h":2.73,"l":2.60,"c":2.63},
{"t":"2024-05-13","o":2.63,"h":2.66,"l":2.56,"c":2.58},
{"t":"2024-05-14","o":2.58,"h":2.62,"l":2.54,"c":2.56},
{"t":"2024-05-15","o":2.56,"h":2.62,"l":2.50,"c":2.60},
{"t":"2024-05-16","o":2.60,"h":2.64,"l":2.52,"c":2.54},
{"t":"2024-05-17","o":2.54,"h":2.64,"l":2.52,"c":2.62},
{"t":"2024-05-18","o":2.62,"h":2.70,"l":2.60,"c":2.68},
{"t":"2024-05-19","o":2.68,"h":2.72,"l":2.64,"c":2.70},
{"t":"2024-05-20","o":2.70,"h":2.82,"l":2.68,"c":2.80},
{"t":"2024-05-21","o":2.80,"h":2.90,"l":2.76,"c":2.86},
{"t":"2024-05-22","o":2.86,"h":2.96,"l":2.82,"c":2.92},
{"t":"2024-05-23","o":2.92,"h":3.00,"l":2.86,"c":2.98},
{"t":"2024-05-24","o":2.98,"h":3.02,"l":2.92,"c":2.96},
{"t":"2024-05-25","o":2.96,"h":3.04,"l":2.94,"c":3.00},
{"t":"2024-05-26","o":3.00,"h":3.03,"l":2.94,"c":2.97},
{"t":"2024-05-27","o":2.97,"h":3.02,"l":2.93,"c":2.99},
{"t":"2024-05-28","o":2.99,"h":3.01,"l":2.92,"c":2.95},
{"t":"2024-05-29","o":2.95,"h":2.98,"l":2.86,"c":2.90},
{"t":"2024-05-30","o":2.90,"h":2.92,"l":2.80,"c":2.82},
{"t":"2024-05-31","o":2.82,"h":2.86,"l":2.76,"c":2.80},
{"t":"2024-06-01","o":2.80,"h":2.84,"l":2.76,"c":2.782},
{"t":"2024-06-02","o":2.782,"h":2.799,"l":2.594,"c":2.600}
]},
"data":{"name":"k"},
"layer":[
{"mark":{"type":"rule","strokeWidth":1},
 "encoding":{
  "x":{"field":"t","type":"temporal","scale":{"type":"utc","domain":[1668617280000,1717718400000],"padding":0},
   "axis":{"title":null,"orient":"bottom","values":[1672531200000,1677628800000,1682899200000,1688169600000,1693526400000,1698796800000,1704067200000,1709251200000,1714521600000,1717372800000],
    "labelExpr":"utcmonth(datum.value)==0 ? utcFormat(datum.value,'%Y') : (utcdate(datum.value)==1 ? utcFormat(datum.value,'%b') : utcFormat(datum.value,'%-d'))",
    "grid":true,"gridColor":"#232733","domain":false,"ticks":false,"labelColor":"#b2b5be","labelFont":"Roboto","labelFontSize":8,"labelPadding":10,"labelFlush":false,"labelOverlap":false}},
  "y":{"field":"l","type":"quantitative","scale":{"domain":[0.72,5.76],"zero":false,"nice":false,"padding":0},
   "axis":{"title":null,"orient":"right","values":[1,1.5,2,2.5,3,3.5,4,4.5,5,5.5],"labelExpr":"datum.value == 2.5 ? '' : format(datum.value, '.3f')","grid":true,"gridColor":"#232733","domain":false,"ticks":false,
    "labelColor":"#b2b5be","labelFont":"Roboto","labelFontSize":8,"labelPadding":13,"labelAlign":"left"}},
  "y2":{"field":"h"},
  "color":{"condition":{"test":"datum.c >= datum.o","value":"#089981"},"value":"#f23645"}}},
{"mark":{"type":"bar","width":1.5},
 "encoding":{
  "x":{"field":"t","type":"temporal","scale":{"type":"utc","domain":[1668617280000,1717718400000],"padding":0},"axis":null},
  "y":{"field":"o","type":"quantitative","scale":{"domain":[0.72,5.76],"zero":false,"nice":false,"padding":0},"axis":null},
  "y2":{"field":"c"},
  "color":{"condition":{"test":"datum.c >= datum.o","value":"#089981"},"value":"#f23645"}}},
{"data":{"values":[{}]},"mark":{"type":"rule","color":"#f23645","strokeDash":[1,2],"strokeWidth":1,"opacity":0.8},
 "encoding":{"y":{"datum":2.6,"type":"quantitative","scale":{"domain":[0.72,5.76],"zero":false,"nice":false,"padding":0},"axis":null}}},
{"data":{"values":[{}]},"mark":{"type":"rect","fill":"#1e222d"},
 "encoding":{"x":{"datum":1668108986832,"type":"temporal","scale":{"type":"utc","domain":[1668617280000,1717718400000],"padding":0},"axis":null},"x2":{"datum":1721479769472},
 "y":{"datum":0.45,"type":"quantitative","scale":{"domain":[0.72,5.76],"zero":false,"nice":false,"padding":0},"axis":null},"y2":{"datum":0.10}}},
{"data":{"values":[{}]},"mark":{"type":"rect","fill":"#1e222d"},
 "encoding":{"x":{"datum":1668108986832,"type":"temporal","scale":{"type":"utc","domain":[1668617280000,1717718400000],"padding":0},"axis":null},"x2":{"datum":1721479769472},
 "y":{"datum":5.76,"type":"quantitative","scale":{"domain":[0.72,5.76],"zero":false,"nice":false,"padding":0},"axis":null},"y2":{"datum":6.05}}},
{"data":{"values":[{}]},"mark":{"type":"text","text":"IamMohammadamin published on TradingView.com, Jun 02, 2024 14:25 UTC+3:30","align":"left","baseline":"middle","font":"Roboto","fontSize":8,"color":"#d1d4dc"},
 "encoding":{"x":{"datum":1668957836423,"type":"temporal","scale":{"type":"utc","domain":[1668617280000,1717718400000],"padding":0},"axis":null},"y":{"datum":5.84,"type":"quantitative","scale":{"domain":[0.72,5.76],"zero":false,"nice":false,"padding":0},"axis":null}}},
{"data":{"values":[{}]},"mark":{"type":"text","text":"CAKE / TetherUS, 1D, BINANCE","align":"left","baseline":"middle","font":"Roboto","fontSize":8,"color":"#d1d4dc"},
 "encoding":{"x":{"datum":1669227231802,"type":"temporal","scale":{"type":"utc","domain":[1668617280000,1717718400000],"padding":0},"axis":null},"y":{"datum":5.65,"type":"quantitative","scale":{"domain":[0.72,5.76],"zero":false,"nice":false,"padding":0},"axis":null}}},
{"data":{"values":[{}]},"mark":{"type":"text","text":"O","align":"left","baseline":"middle","font":"Roboto","fontSize":8,"color":"#d1d4dc"},
 "encoding":{"x":{"datum":1675108183755,"type":"temporal","scale":{"type":"utc","domain":[1668617280000,1717718400000],"padding":0},"axis":null},"y":{"datum":5.65,"type":"quantitative","scale":{"domain":[0.72,5.76],"zero":false,"nice":false,"padding":0},"axis":null}}},
{"data":{"values":[{}]},"mark":{"type":"text","text":"2.782","align":"left","baseline":"middle","font":"Roboto","fontSize":8,"color":"#f23645"},
 "encoding":{"x":{"datum":1675362330339,"type":"temporal","scale":{"type":"utc","domain":[1668617280000,1717718400000],"padding":0},"axis":null},"y":{"datum":5.65,"type":"quantitative","scale":{"domain":[0.72,5.76],"zero":false,"nice":false,"padding":0},"axis":null}}},
{"data":{"values":[{}]},"mark":{"type":"text","text":"H","align":"left","baseline":"middle","font":"Roboto","fontSize":8,"color":"#d1d4dc"},
 "encoding":{"x":{"datum":1676648312054,"type":"temporal","scale":{"type":"utc","domain":[1668617280000,1717718400000],"padding":0},"axis":null},"y":{"datum":5.65,"type":"quantitative","scale":{"domain":[0.72,5.76],"zero":false,"nice":false,"padding":0},"axis":null}}},
{"data":{"values":[{}]},"mark":{"type":"text","text":"2.799","align":"left","baseline":"middle","font":"Roboto","fontSize":8,"color":"#f23645"},
 "encoding":{"x":{"datum":1676887209844,"type":"temporal","scale":{"type":"utc","domain":[1668617280000,1717718400000],"padding":0},"axis":null},"y":{"datum":5.65,"type":"quantitative","scale":{"domain":[0.72,5.76],"zero":false,"nice":false,"padding":0},"axis":null}}},
{"data":{"values":[{}]},"mark":{"type":"text","text":"L","align":"left","baseline":"middle","font":"Roboto","fontSize":8,"color":"#d1d4dc"},
 "encoding":{"x":{"datum":1678188440353,"type":"temporal","scale":{"type":"utc","domain":[1668617280000,1717718400000],"padding":0},"axis":null},"y":{"datum":5.65,"type":"quantitative","scale":{"domain":[0.72,5.76],"zero":false,"nice":false,"padding":0},"axis":null}}},
{"data":{"values":[{}]},"mark":{"type":"text","text":"2.594","align":"left","baseline":"middle","font":"Roboto","fontSize":8,"color":"#f23645"},
 "encoding":{"x":{"datum":1678391757620,"type":"temporal","scale":{"type":"utc","domain":[1668617280000,1717718400000],"padding":0},"axis":null},"y":{"datum":5.65,"type":"quantitative","scale":{"domain":[0.72,5.76],"zero":false,"nice":false,"padding":0},"axis":null}}},
{"data":{"values":[{}]},"mark":{"type":"text","text":"C","align":"left","baseline":"middle","font":"Roboto","fontSize":8,"color":"#d1d4dc"},
 "encoding":{"x":{"datum":1679631992950,"type":"temporal","scale":{"type":"utc","domain":[1668617280000,1717718400000],"padding":0},"axis":null},"y":{"datum":5.65,"type":"quantitative","scale":{"domain":[0.72,5.76],"zero":false,"nice":false,"padding":0},"axis":null}}},
{"data":{"values":[{}]},"mark":{"type":"text","text":"2.600","align":"left","baseline":"middle","font":"Roboto","fontSize":8,"color":"#f23645"},
 "encoding":{"x":{"datum":1679886139534,"type":"temporal","scale":{"type":"utc","domain":[1668617280000,1717718400000],"padding":0},"axis":null},"y":{"datum":5.65,"type":"quantitative","scale":{"domain":[0.72,5.76],"zero":false,"nice":false,"padding":0},"axis":null}}},
{"data":{"values":[{}]},"mark":{"type":"text","text":"−0.182 (−6.54%)","align":"left","baseline":"middle","font":"Roboto","fontSize":8,"color":"#f23645"},
 "encoding":{"x":{"datum":1681187370044,"type":"temporal","scale":{"type":"utc","domain":[1668617280000,1717718400000],"padding":0},"axis":null},"y":{"datum":5.65,"type":"quantitative","scale":{"domain":[0.72,5.76],"zero":false,"nice":false,"padding":0},"axis":null}}},
{"data":{"values":[{}]},"mark":{"type":"text","text":"Bitcoin Halvings","align":"left","baseline":"middle","font":"Roboto","fontSize":8,"color":"#d1d4dc"},
 "encoding":{"x":{"datum":1669227231802,"type":"temporal","scale":{"type":"utc","domain":[1668617280000,1717718400000],"padding":0},"axis":null},"y":{"datum":5.54,"type":"quantitative","scale":{"domain":[0.72,5.76],"zero":false,"nice":false,"padding":0},"axis":null}}},
{"data":{"values":[{}]},"mark":{"type":"rect","fill":"#161a25","stroke":"#434651","strokeWidth":1,"cornerRadius":3},
 "encoding":{"x":{"datum":1718277522514,"type":"temporal","scale":{"type":"utc","domain":[1668617280000,1717718400000],"padding":0},"axis":null},"x2":{"datum":1720158207235},
 "y":{"datum":5.73,"type":"quantitative","scale":{"domain":[0.72,5.76],"zero":false,"nice":false,"padding":0},"axis":null},"y2":{"datum":5.56}}},
{"data":{"values":[{}]},"mark":{"type":"text","text":"USDT","align":"center","baseline":"middle","font":"Roboto","fontSize":8,"color":"#d1d4dc"},
 "encoding":{"x":{"datum":1719090791582,"type":"temporal","scale":{"type":"utc","domain":[1668617280000,1717718400000],"padding":0},"axis":null},"y":{"datum":5.645,"type":"quantitative","scale":{"domain":[0.72,5.76],"zero":false,"nice":false,"padding":0},"axis":null}}},
{"data":{"values":[{}]},"mark":{"type":"rect","fill":"#f23645","cornerRadius":2},
 "encoding":{"x":{"datum":1718125034563,"type":"temporal","scale":{"type":"utc","domain":[1668617280000,1717718400000],"padding":0},"axis":null},"x2":{"datum":1720158207235},
 "y":{"datum":2.66,"type":"quantitative","scale":{"domain":[0.72,5.76],"zero":false,"nice":false,"padding":0},"axis":null},"y2":{"datum":2.46}}},
{"data":{"values":[{}]},"mark":{"type":"text","text":"2.600","align":"left","baseline":"middle","font":"Roboto","fontSize":8,"color":"#ffffff"},
 "encoding":{"x":{"datum":1718379181147,"type":"temporal","scale":{"type":"utc","domain":[1668617280000,1717718400000],"padding":0},"axis":null},"y":{"datum":2.60,"type":"quantitative","scale":{"domain":[0.72,5.76],"zero":false,"nice":false,"padding":0},"axis":null}}},
{"data":{"values":[{}]},"mark":{"type":"text","text":"13:04:35","align":"left","baseline":"middle","font":"Roboto","fontSize":8,"color":"#ffffff"},
 "encoding":{"x":{"datum":1718379181147,"type":"temporal","scale":{"type":"utc","domain":[1668617280000,1717718400000],"padding":0},"axis":null},"y":{"datum":2.51,"type":"quantitative","scale":{"domain":[0.72,5.76],"zero":false,"nice":false,"padding":0},"axis":null}}},
{"data":{"values":[{}]},"mark":{"type":"text","text":"17","align":"left","baseline":"middle","font":"Roboto","fontSize":10,"fontWeight":"bold","color":"#ffffff"},
 "encoding":{"x":{"datum":1669023914534,"type":"temporal","scale":{"type":"utc","domain":[1668617280000,1717718400000],"padding":0},"axis":null},"y":{"datum":0.34,"type":"quantitative","scale":{"domain":[0.72,5.76],"zero":false,"nice":false,"padding":0},"axis":null}}},
{"data":{"values":[{}]},"mark":{"type":"text","text":"TradingView","align":"left","baseline":"middle","font":"Roboto","fontSize":9,"color":"#d1d4dc"},
 "encoding":{"x":{"datum":1669684695653,"type":"temporal","scale":{"type":"utc","domain":[1668617280000,1717718400000],"padding":0},"axis":null},"y":{"datum":0.34,"type":"quantitative","scale":{"domain":[0.72,5.76],"zero":false,"nice":false,"padding":0},"axis":null}}}
]
}
